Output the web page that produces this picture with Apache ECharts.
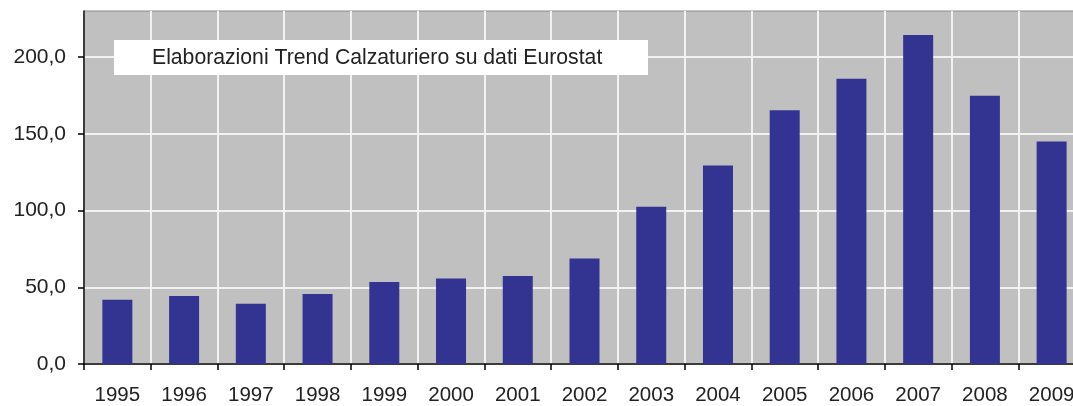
<!DOCTYPE html>
<html>
<head>
<meta charset="utf-8">
<script src="https://cdn.jsdelivr.net/npm/echarts@6/dist/echarts.min.js"></script>
<style>
  html, body { margin: 0; padding: 0; background: #fff; }
  #chart { width: 1073px; height: 406px; }
</style>
</head>
<body>
<div id="chart"></div>
<script>
  // dati
  var years = ['1995', '1996', '1997', '1998', '1999', '2000', '2001', '2002',
               '2003', '2004', '2005', '2006', '2007', '2008', '2009'];
  var values = [41.9, 44.3, 39.3, 45.6, 53.4, 55.7, 57.3, 68.7,
                102.5, 129.4, 165.3, 185.8, 214.4, 174.8, 144.9];
  var yTicks = [0, 50, 100, 150, 200];
  var note = 'Elaborazioni Trend Calzaturiero su dati Eurostat';

  var font = '"Liberation Sans", Arial, sans-serif';
  var chart = echarts.init(document.getElementById('chart'));
  chart.setOption({
    animation: false,
    grid: {
      left: 84,
      right: -12,
      top: 11,
      bottom: 42,
      containLabel: false,
      outerBoundsMode: 'none',
      show: true,
      backgroundColor: '#c0c0c0',
      borderColor: '#8a8a8a',
      borderWidth: 1
    },
    xAxis: {
      type: 'category',
      data: years,
      axisLine: { lineStyle: { color: '#000', width: 1.5 } },
      axisTick: { show: true, length: 6, lineStyle: { color: '#000', width: 1.5 } },
      axisLabel: { margin: 21, fontSize: 20.5, fontFamily: font, color: '#222' },
      splitLine: { show: true, lineStyle: { color: '#f2f2f2', width: 2 } }
    },
    yAxis: {
      type: 'value',
      min: 0,
      max: 230,
      interval: 50,
      axisLine: { show: true, lineStyle: { color: '#000', width: 1.5 } },
      axisTick: { show: true, length: 6, customValues: yTicks, lineStyle: { color: '#000', width: 1.5 } },
      axisLabel: {
        margin: 18,
        fontSize: 21,
        fontFamily: font,
        color: '#222',
        customValues: yTicks,
        formatter: function (v) { return v.toFixed(1).replace('.', ','); }
      },
      splitLine: { show: true, lineStyle: { color: '#f2f2f2', width: 2 } }
    },
    graphic: [
      {
        type: 'rect',
        shape: { x: 114, y: 40, width: 534, height: 35 },
        style: { fill: '#fff' },
        z: 100
      },
      {
        type: 'text',
        x: 152,
        y: 58,
        style: {
          text: note,
          font: '21.2px ' + font,
          fill: '#222',
          verticalAlign: 'middle'
        },
        z: 101
      }
    ],
    series: [
      {
        type: 'bar',
        data: values,
        barWidth: 30,
        itemStyle: { color: '#333391' }
      }
    ]
  });
</script>
</body>
</html>
